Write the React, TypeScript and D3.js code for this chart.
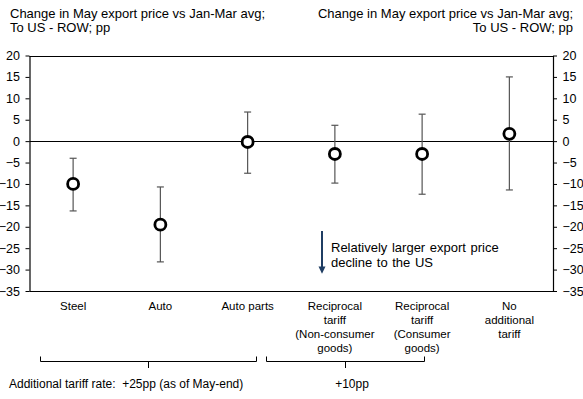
import React, { useEffect, useRef } from 'react';
import * as d3 from 'd3';

// categories (label lines) and point / error bar values, pp
const categories = [
    ['Steel'],
    ['Auto'],
    ['Auto parts'],
    ['Reciprocal', 'tariff', '(Non-consumer', 'goods)'],
    ['Reciprocal', 'tariff', '(Consumer', 'goods)'],
    ['No', 'additional', 'tariff'],
];
const pointValues = [-10, -19.5, -0.2, -3, -3, 1.7];
const errHigh = [-4, -10.7, 6.8, 3.7, 6.3, 15];
const errLow = [-16.3, -28.2, -7.5, -9.8, -12.4, -11.4];
const yTicks = [20, 15, 10, 5, 0, -5, -10, -15, -20, -25, -30, -35];

const App = () => {
    const ref = useRef<SVGSVGElement>(null);

    useEffect(() => {
        const width = 583;
        const height = 399;
        const margin = { top: 55.5, right: 30, bottom: 108, left: 29.5 };
        const font = 'Arial, "Liberation Sans", sans-serif';

        const svg = d3.select(ref.current);
        svg.selectAll('*').remove();

        const x = d3.scaleBand<number>()
            .domain(d3.range(categories.length))
            .range([margin.left, width - margin.right]);

        const y = d3.scaleLinear()
            .domain([-35, 20])
            .range([height - margin.bottom, margin.top]);

        // titles
        const titleLines = ['Change in May export price vs Jan-Mar avg;', 'To US - ROW; pp'];
        titleLines.forEach((t, i) => {
            svg.append('text').attr('x', 10).attr('y', 17.5 + i * 14)
                .attr('font-size', 13).attr('font-family', font).attr('fill', '#000')
                .text(t);
            svg.append('text').attr('x', 573).attr('y', 17.5 + i * 14)
                .attr('text-anchor', 'end')
                .attr('font-size', 13).attr('font-family', font).attr('fill', '#000')
                .text(t);
        });

        // frame lines top / bottom, zero line
        const x0 = margin.left, x1 = width - margin.right;
        [20, -35, 0].forEach(v => {
            svg.append('line')
                .attr('x1', x0).attr('x2', x1)
                .attr('y1', Math.round(y(v)) + 0.5).attr('y2', Math.round(y(v)) + 0.5)
                .attr('stroke', '#000').attr('stroke-width', 1.2);
        });

        const leftAxis = svg.append('g')
            .attr('transform', `translate(${x0},0)`)
            .call(d3.axisLeft(y).tickValues(yTicks).tickSize(4).tickSizeOuter(0));
        const rightAxis = svg.append('g')
            .attr('transform', `translate(${x1},0)`)
            .call(d3.axisRight(y).tickValues(yTicks).tickSize(4).tickSizeOuter(0));
        [leftAxis, rightAxis].forEach(g => {
            g.select('.domain').attr('stroke', '#000').attr('stroke-width', 1.2);
            g.selectAll('line').attr('stroke', '#000');
            g.selectAll('text').attr('font-size', 12.5).attr('font-family', font).attr('fill', '#000');
        });
        leftAxis.selectAll('text').attr('x', -9.5);
        rightAxis.selectAll('text').attr('x', 9.5);

        // error bars
        const cx = (i: number) => (x(i) as number) + x.bandwidth() / 2;
        const eb = svg.append('g').attr('stroke', '#555').attr('stroke-width', 1.2);
        categories.forEach((_, i) => {
            eb.append('line').attr('x1', cx(i)).attr('x2', cx(i))
                .attr('y1', y(errHigh[i])).attr('y2', y(errLow[i]));
            [errHigh[i], errLow[i]].forEach(v => {
                eb.append('line').attr('x1', cx(i) - 3.5).attr('x2', cx(i) + 3.5)
                    .attr('y1', y(v)).attr('y2', y(v));
            });
        });

        svg.append('g')
            .selectAll('circle')
            .data(pointValues)
            .join('circle')
            .attr('cx', (_, i) => cx(i))
            .attr('cy', d => y(d))
            .attr('r', 5.5)
            .attr('fill', '#fff')
            .attr('stroke', '#000')
            .attr('stroke-width', 2.8);

        // category labels
        categories.forEach((lines, i) => {
            const t = svg.append('text')
                .attr('text-anchor', 'middle')
                .attr('font-size', 11.5).attr('font-family', font).attr('fill', '#000');
            lines.forEach((l, j) => {
                t.append('tspan').attr('x', cx(i)).attr('y', 310 + j * 14).text(l);
            });
        });

        // annotation arrow
        const ax = 322;
        svg.append('line').attr('x1', ax).attr('x2', ax)
            .attr('y1', y(-21)).attr('y2', y(-29.5))
            .attr('stroke', '#1f3d63').attr('stroke-width', 2);
        svg.append('path')
            .attr('d', `M${ax - 3.5},${y(-29.3)} L${ax + 3.5},${y(-29.3)} L${ax},${y(-31)} Z`)
            .attr('fill', '#1f3d63');
        const note = svg.append('text')
            .attr('font-size', 13).attr('font-family', font).attr('fill', '#000')
            .attr('word-spacing', 1);
        note.append('tspan').attr('x', 331).attr('y', 252).text('Relatively larger export price');
        note.append('tspan').attr('x', 331).attr('y', 267).text('decline to the US');

        // brackets
        const bracket = (xa: number, xb: number, xm: number) => {
            svg.append('path')
                .attr('d', `M${xa},356.5 L${xa},361.5 L${xb},361.5 L${xb},356.5 M${xm},361.5 L${xm},368`)
                .attr('fill', 'none').attr('stroke', '#000').attr('stroke-width', 1);
        };
        bracket(40.5, 256.5, 148.5);
        bracket(266.5, 424.5, 345.5);

        svg.append('text').attr('x', 9).attr('y', 388)
            .attr('font-size', 12).attr('font-family', font).attr('fill', '#000')
            .style('white-space', 'pre')
            .text('Additional tariff rate:  +25pp (as of May-end)');
        svg.append('text').attr('x', 352).attr('y', 388).attr('text-anchor', 'middle')
            .attr('font-size', 12).attr('font-family', font).attr('fill', '#000')
            .text('+10pp');
    }, []);

    return (
        <svg ref={ref} width={583} height={399}
            style={{ position: 'absolute', left: 0, top: 0, background: '#fff' }} />
    );
};

export default App;
